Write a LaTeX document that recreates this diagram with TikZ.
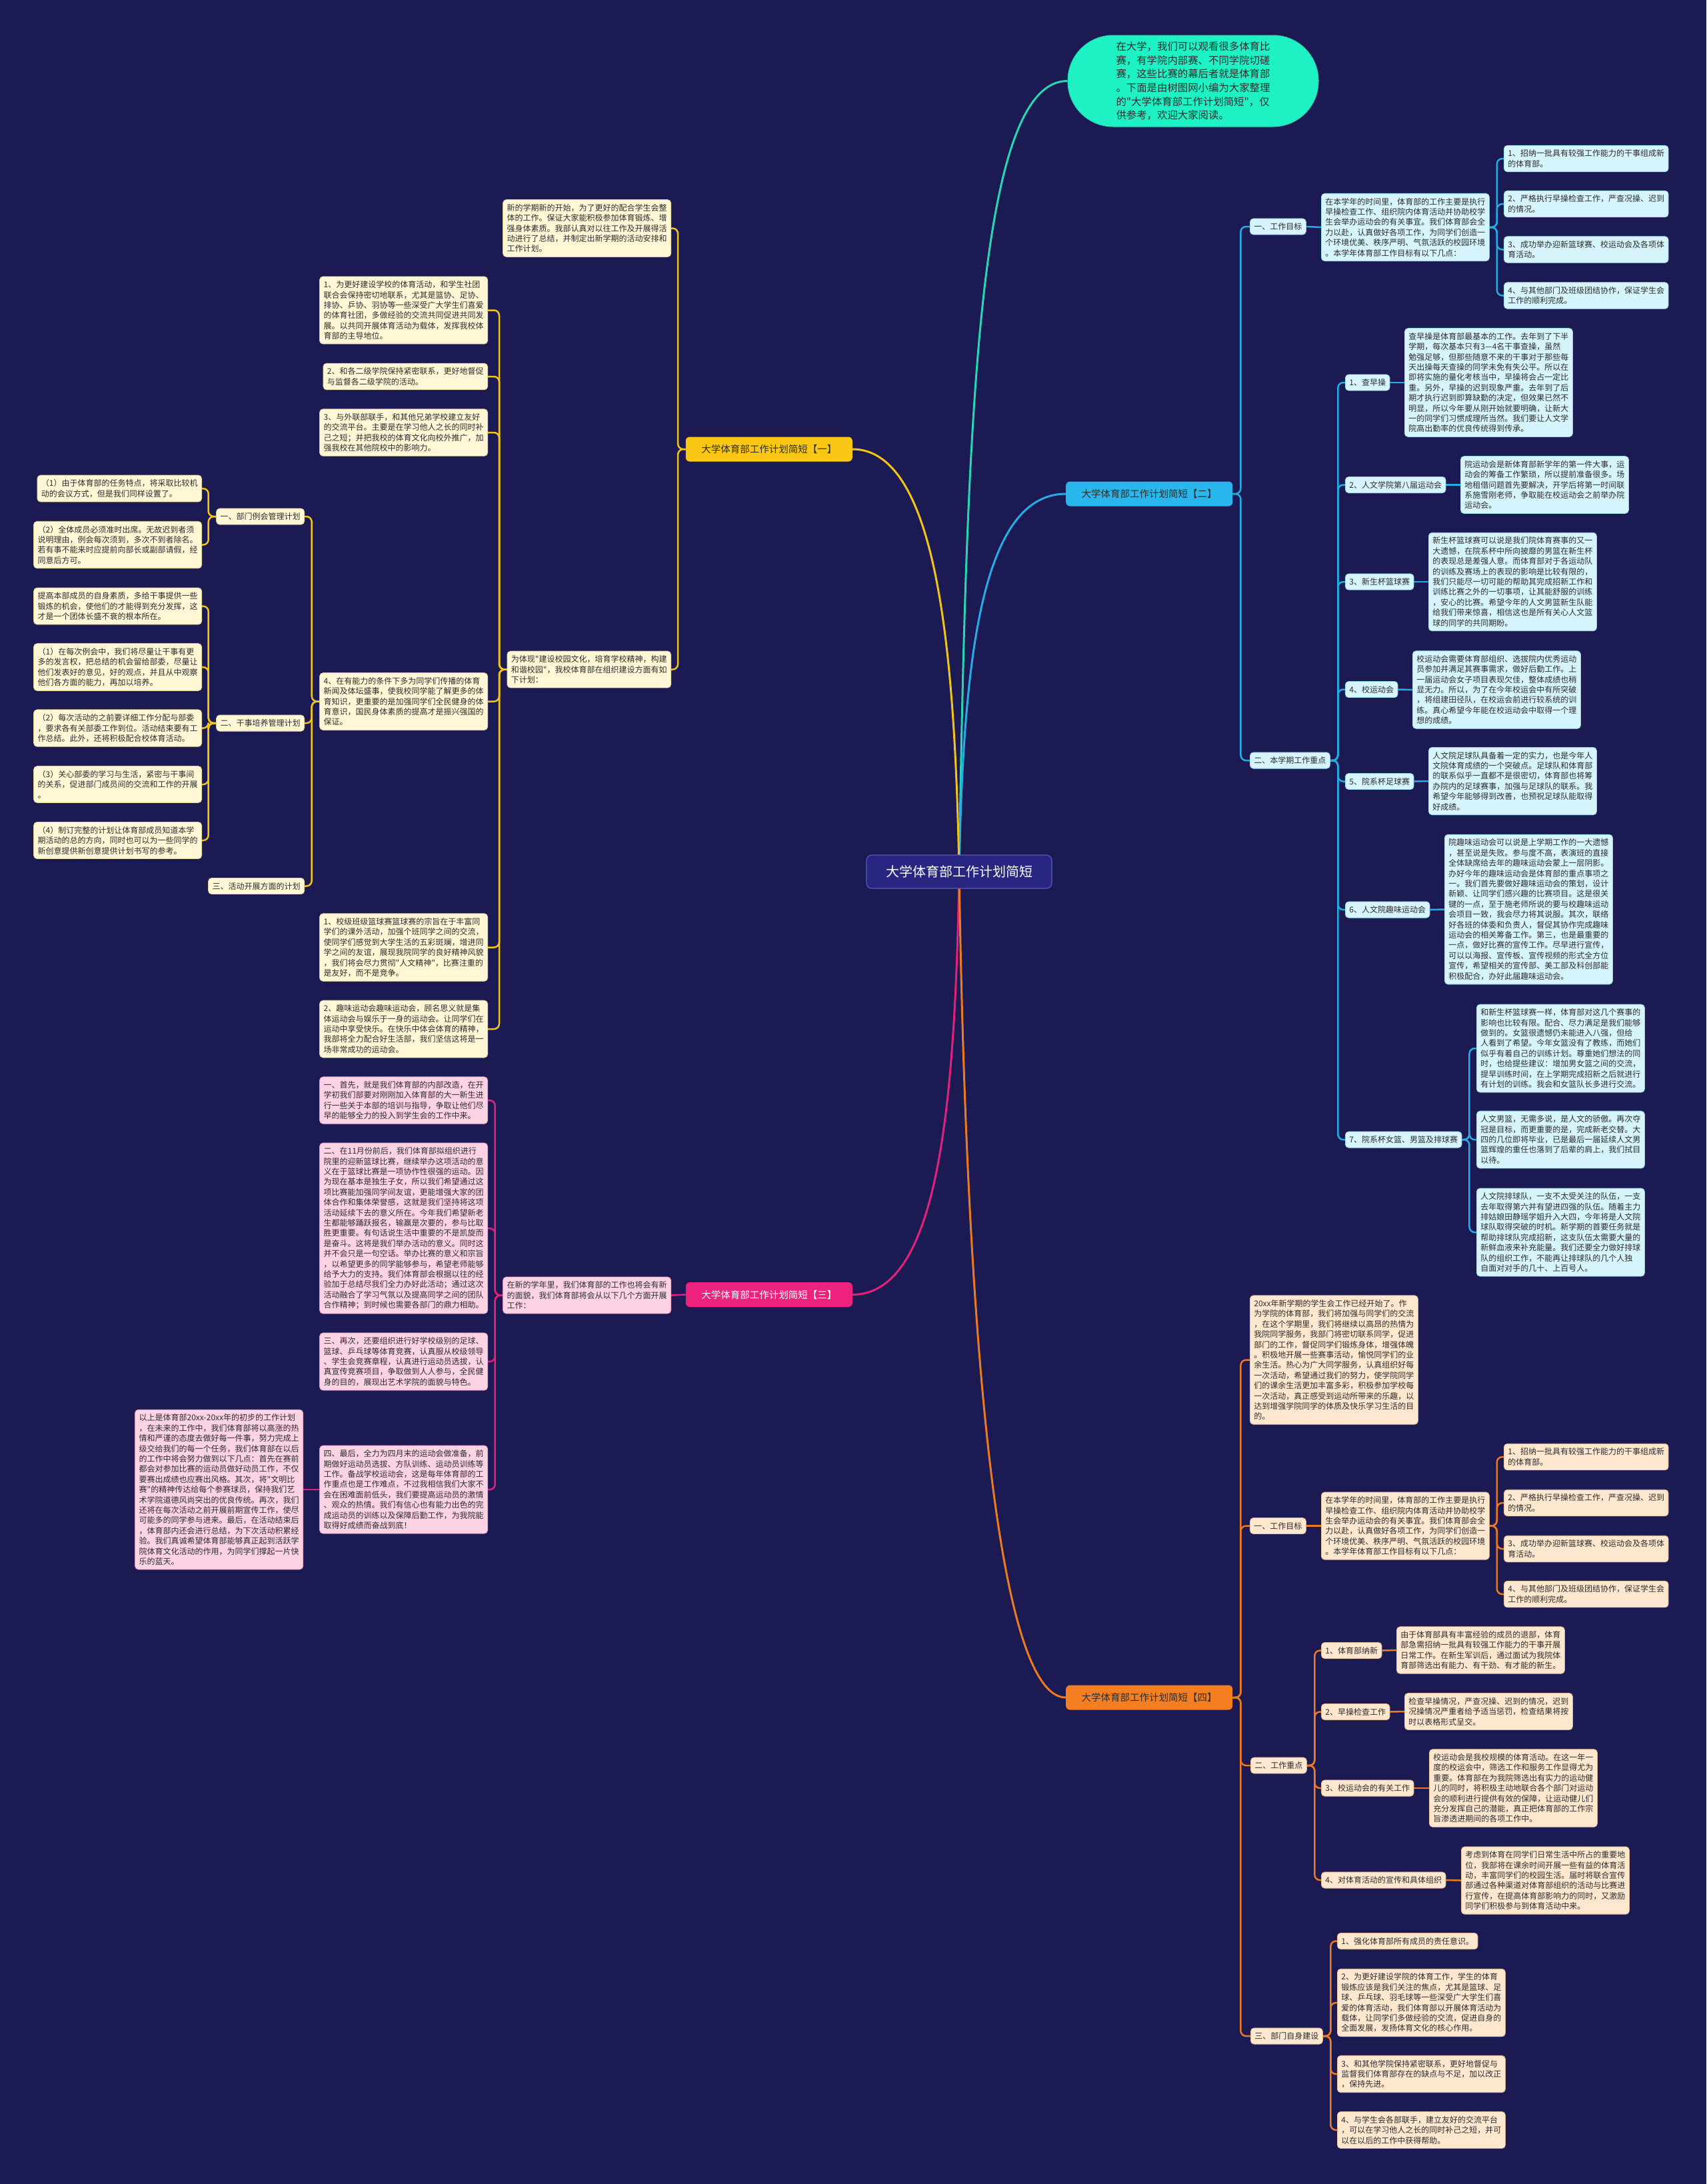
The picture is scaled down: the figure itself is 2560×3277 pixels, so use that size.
\documentclass[tikz,border=0pt]{standalone}
\usepackage{fontspec}
\setmainfont{Noto Sans CJK SC}
\newfontfamily\cjkf{Noto Sans CJK SC}
\usetikzlibrary{calc}
\definecolor{bgc}{RGB}{27,26,82}
\definecolor{txt}{RGB}{45,45,45}
\definecolor{rootfill}{RGB}{40,38,128}
\definecolor{rootedge}{RGB}{90,90,190}
\definecolor{tealfill}{RGB}{30,242,196}
\definecolor{tealline}{RGB}{40,214,180}
\definecolor{cline}{RGB}{38,172,228}
\definecolor{cfill}{RGB}{40,182,236}
\definecolor{cbox}{RGB}{214,244,252}
\definecolor{cedge}{RGB}{150,215,235}
\definecolor{yline}{RGB}{240,196,24}
\definecolor{yfill}{RGB}{250,200,20}
\definecolor{ybox}{RGB}{255,247,214}
\definecolor{yedge}{RGB}{225,210,150}
\definecolor{pline}{RGB}{226,34,122}
\definecolor{pfill}{RGB}{236,34,124}
\definecolor{pbox}{RGB}{252,210,229}
\definecolor{pedge}{RGB}{230,160,195}
\definecolor{oline}{RGB}{236,122,32}
\definecolor{ofill}{RGB}{244,126,34}
\definecolor{obox}{RGB}{253,231,207}
\definecolor{oedge}{RGB}{225,185,150}
\newcommand\fs{\cjkf\fontsize{12pt}{15.4pt}\selectfont}
\newcommand\fsec{\cjkf\fontsize{14.5pt}{17pt}\selectfont}
\newcommand\froot{\cjkf\fontsize{20pt}{24pt}\selectfont}
\newcommand\fintro{\cjkf\fontsize{15.4pt}{20.6pt}\selectfont}
\pgfdeclarelayer{bgl}
\pgfdeclarelayer{lines}
\pgfsetlayers{bgl,lines,main}
\tikzset{
  box/.style={font=\fs, text=txt, align=left, inner xsep=6pt, inner ysep=6.5pt, rounded corners=5pt, line width=0.8pt},
  cbx/.style={box, fill=cbox, draw=cedge},
  ybx/.style={box, fill=ybox, draw=yedge},
  pbx/.style={box, fill=pbox, draw=pedge},
  obx/.style={box, fill=obox, draw=oedge},
  sec/.style={font=\fsec, rounded corners=6pt, minimum width=250pt, minimum height=37pt, inner sep=0pt},
  cl/.style={draw=cline, line width=2.5pt, rounded corners=8pt},
  yl/.style={draw=yline, line width=2.5pt, rounded corners=8pt},
  pl/.style={draw=pline, line width=2.5pt, rounded corners=8pt},
  ol/.style={draw=oline, line width=2.5pt, rounded corners=8pt},
  tl/.style={draw=tealline, line width=2.5pt},
}
\begin{document}
\begin{tikzpicture}[x=1pt,y=-1pt]
\begin{pgfonlayer}{bgl}
\fill[bgc] (0,0) rectangle (2560,3277);
\end{pgfonlayer}
\useasboundingbox (0,0) rectangle (2560,3277);

% root
\node[fill=rootfill, draw=rootedge, line width=1.2pt, rounded corners=8pt, minimum width=278pt, minimum height=50pt, text=white, font=\froot] (root) at (1439,1308) {大学体育部工作计划简短};

% intro
\node[fill=tealfill, draw=tealline, line width=1pt, rounded corners=68pt, minimum width=376pt, minimum height=137pt, font=\fintro, text=txt, align=left] (intro) at (1790,121.5) {在大学，我们可以观看很多体育比\\赛，有学院内部赛、不同学院切磋\\赛，这些比赛的幕后者就是体育部\\。下面是由树图网小编为大家整理\\的"大学体育部工作计划简短"，仅\\供参考，欢迎大家阅读。};

% ===== branch 二 (blue) =====
\node[sec, fill=cfill, text=txt, anchor=west] (B2) at (1599,741) {大学体育部工作计划简短【二】};
\node[cbx, anchor=west] (G1) at (1875,340) {一、工作目标};
\node[cbx, anchor=west] (G1t) at (1982,341) {在本学年的时间里，体育部的工作主要是执行\\早操检查工作、组织院内体育活动并协助校学\\生会举办运动会的有关事宜。我们体育部会全\\力以赴，认真做好各项工作，为同学们创造一\\个环境优美、秩序严明、气氛活跃的校园环境\\。本学年体育部工作目标有以下几点：};
\node[cbx, anchor=west] (G1a) at (2256,238) {1、招纳一批具有较强工作能力的干事组成新\\的体育部。};
\node[cbx, anchor=west] (G1b) at (2256,306) {2、严格执行早操检查工作，严查况操、迟到\\的情况。};
\node[cbx, anchor=west] (G1c) at (2256,374.5) {3、成功举办迎新篮球赛、校运动会及各项体\\育活动。};
\node[cbx, anchor=west] (G1d) at (2256,443.5) {4、与其他部门及班级团结协作，保证学生会\\工作的顺利完成。};
\node[cbx, anchor=west] (G2) at (1875,1141) {二、本学期工作重点};
\node[cbx, anchor=west] (L1) at (2018,574) {1、查早操};
\node[cbx, anchor=west] (T1) at (2107,574) {查早操是体育部最基本的工作。去年到了下半\\学期，每次基本只有3—4名干事查操，虽然\\勉强足够，但那些随意不来的干事对于那些每\\天出操每天查操的同学未免有失公平。所以在\\即将实施的量化考核当中，早操将会占一定比\\重。另外，早操的迟到现象严重。去年到了后\\期才执行迟到即算缺勤的决定，但效果已然不\\明显，所以今年要从刚开始就要明确，让新大\\一的同学们习惯成理所当然。我们要让人文学\\院高出勤率的优良传统得到传承。};
\node[cbx, anchor=west] (L2) at (2018,727.5) {2、人文学院第八届运动会};
\node[cbx, anchor=west] (T2) at (2191,727.5) {院运动会是新体育部新学年的第一件大事，运\\动会的筹备工作繁琐，所以提前准备很多。场\\地租借问题首先要解决，开学后将第一时间联\\系施雪刚老师，争取能在校运动会之前举办院\\运动会。};
\node[cbx, anchor=west] (L3) at (2018,873) {3、新生杯篮球赛};
\node[cbx, anchor=west] (T3) at (2143,873) {新生杯篮球赛可以说是我们院体育赛事的又一\\大遗憾，在院系杯中所向披靡的男篮在新生杯\\的表现总是差强人意。而体育部对于各运动队\\的训练及赛场上的表现的影响是比较有限的，\\我们只能尽一切可能的帮助其完成招新工作和\\训练比赛之外的一切事项，让其能舒服的训练\\，安心的比赛。希望今年的人文男篮新生队能\\给我们带来惊喜，相信这也是所有关心人文篮\\球的同学的共同期盼。};
\node[cbx, anchor=west] (L4) at (2018,1034.5) {4、校运动会};
\node[cbx, anchor=west] (T4) at (2119,1035) {校运动会需要体育部组织、选拔院内优秀运动\\员参加并满足其赛事需求，做好后勤工作。上\\一届运动会女子项目表现欠佳，整体成绩也稍\\显无力。所以，为了在今年校运会中有所突破\\，将组建田径队，在校运会前进行较系统的训\\练。真心希望今年能在校运动会中取得一个理\\想的成绩。};
\node[cbx, anchor=west] (L5) at (2018,1172.5) {5、院系杯足球赛};
\node[cbx, anchor=west] (T5) at (2143,1172) {人文院足球队具备着一定的实力，也是今年人\\文院体育成绩的一个突破点。足球队和体育部\\的联系似乎一直都不是很密切，体育部也将筹\\办院内的足球赛事，加强与足球队的联系。我\\希望今年能够得到改善，也预祝足球队能取得\\好成绩。};
\node[cbx, anchor=west] (L6) at (2018,1365) {6、人文院趣味运动会};
\node[cbx, anchor=west] (T6) at (2167,1364.5) {院趣味运动会可以说是上学期工作的一大遗憾\\，甚至说是失败。参与度不高，表演班的直接\\全体缺席给去年的趣味运动会蒙上一层阴影。\\办好今年的趣味运动会是体育部的重点事项之\\一。我们首先要做好趣味运动会的策划，设计\\新颖、让同学们感兴趣的比赛项目。这是很关\\键的一点，至于施老师所说的要与校趣味运动\\会项目一致，我会尽力将其说服。其次，联络\\好各班的体委和负责人，督促其协作完成趣味\\运动会的相关筹备工作。第三，也是最重要的\\一点，做好比赛的宣传工作。尽早进行宣传，\\可以以海报、宣传板、宣传视频的形式全方位\\宣传，希望相关的宣传部、美工部及科创部能\\积极配合，办好此届趣味运动会。};
\node[cbx, anchor=west] (L7) at (2018,1710) {7、院系杯女篮、男篮及排球赛};
\node[cbx, anchor=west] (T7a) at (2215,1573) {和新生杯篮球赛一样，体育部对这几个赛事的\\影响也比较有限。配合、尽力满足是我们能够\\做到的。女篮很遗憾仍未能进入八强，但给\\人看到了希望。今年女篮没有了教练，而她们\\似乎有着自己的训练计划。尊重她们想法的同\\时，也给提些建议：增加男女篮之间的交流，\\提早训练时间，在上学期完成招新之后就进行\\有计划的训练。我会和女篮队长多进行交流。};
\node[cbx, anchor=west] (T7b) at (2215,1710) {人文男篮，无需多说，是人文的骄傲。再次夺\\冠是目标，而更重要的是，完成新老交替。大\\四的几位即将毕业，已是最后一届延续人文男\\篮辉煌的重任也落到了后辈的肩上，我们拭目\\以待。};
\node[cbx, anchor=west] (T7c) at (2215,1849) {人文院排球队，一支不太受关注的队伍，一支\\去年取得第六并有望进四强的队伍。随着主力\\排姑娘田静瑶学姐升入大四，今年将是人文院\\球队取得突破的时机。新学期的首要任务就是\\帮助排球队完成招新，这支队伍太需要大量的\\新鲜血液来补充能量。我们还要全力做好排球\\队的组织工作，不能再让排球队的几个人独\\自面对对手的几十、上百号人。};

% ===== branch 一 (yellow) =====
\node[sec, fill=yfill, text=txt, anchor=east] (B1) at (1279,674) {大学体育部工作计划简短【一】};
\node[ybx, anchor=east] (N1) at (1007,342.5) {新的学期新的开始，为了更好的配合学生会整\\体的工作。保证大家能积极参加体育锻炼、增\\强身体素质。我部认真对以往工作及开展得活\\动进行了总结，并制定出新学期的活动安排和\\工作计划。};
\node[ybx, anchor=east] (N2) at (1007,1004.5) {为体现"建设校园文化，培育学校精神，构建\\和谐校园"，我校体育部在组织建设方面有如\\下计划：};
\node[ybx, anchor=east] (I1) at (732,465.5) {1、为更好建设学校的体育活动，和学生社团\\联合会保持密切地联系，尤其是篮协、足协、\\排协、乒协、羽协等一些深受广大学生们喜爱\\的体育社团，多做经验的交流共同促进共同发\\展。以共同开展体育活动为载体，发挥我校体\\育部的主导地位。};
\node[ybx, anchor=east] (I2) at (732,565) {2、和各二级学院保持紧密联系，更好地督促\\与监督各二级学院的活动。};
\node[ybx, anchor=east] (I3) at (732,649) {3、与外联部联手，和其他兄弟学校建立友好\\的交流平台。主要是在学习他人之长的同时补\\己之短；并把我校的体育文化向校外推广，加\\强我校在其他院校中的影响力。};
\node[ybx, anchor=east] (I4) at (732,1052.5) {4、在有能力的条件下多为同学们传播的体育\\新闻及体坛盛事，使我校同学能了解更多的体\\育知识，更重要的是加强同学们全民健身的体\\育意识，国民身体素质的提高才是振兴强国的\\保证。};
\node[ybx, anchor=east] (I5) at (732,1421.5) {1、校级班级篮球赛篮球赛的宗旨在于丰富同\\学们的课外活动，加强个班同学之间的交流，\\使同学们感觉到大学生活的五彩斑斓，增进同\\学之间的友谊，展现我院同学的良好精神风貌\\，我们将会尽力贯彻"人文精神"，比赛注重的\\是友好，而不是竞争。};
\node[ybx, anchor=east] (I6) at (732,1544) {2、趣味运动会趣味运动会，顾名思义就是集\\体运动会与娱乐于一身的运动会。让同学们在\\运动中享受快乐。在快乐中体会体育的精神，\\我部将全力配合好生活部，我们坚信这将是一\\场非常成功的运动会。};
\node[ybx, anchor=east] (P1) at (457,775) {一、部门例会管理计划};
\node[ybx, anchor=east] (P2) at (457,1085) {二、干事培养管理计划};
\node[ybx, anchor=east] (P3) at (457,1329.5) {三、活动开展方面的计划};
\node[ybx, anchor=east] (Q1) at (303,733) {（1）由于体育部的任务特点，将采取比较机\\动的会议方式，但是我们同样设置了。};
\node[ybx, anchor=east] (Q2) at (303,817.5) {（2）全体成员必须准时出席。无故迟到者须\\说明理由，例会每次须到，多次不到者除名。\\若有事不能来时应提前向部长或副部请假，经\\同意后方可。};
\node[ybx, anchor=east] (Q3) at (303,909.5) {提高本部成员的自身素质，多给干事提供一些\\锻炼的机会，使他们的才能得到充分发挥，这\\才是一个团体长盛不衰的根本所在。};
\node[ybx, anchor=east] (Q4) at (303,1001) {（1）在每次例会中，我们将尽量让干事有更\\多的发言权，把总结的机会留给部委，尽量让\\他们发表好的意见，好的观点，并且从中观察\\他们各方面的能力，再加以培养。};
\node[ybx, anchor=east] (Q5) at (303,1092.5) {（2）每次活动的之前要详细工作分配与部委\\，要求各有关部委工作到位。活动结束要有工\\作总结。此外，还将积极配合校体育活动。};
\node[ybx, anchor=east] (Q6) at (303,1177) {（3）关心部委的学习与生活，紧密与干事间\\的关系，促进部门成员间的交流和工作的开展\\。};
\node[ybx, anchor=east] (Q7) at (303,1261) {（4）制订完整的计划让体育部成员知道本学\\期活动的总的方向，同时也可以为一些同学的\\新创意提供新创意提供计划书写的参考。};

% ===== branch 三 (pink) =====
\node[sec, fill=pfill, text=white, anchor=east] (B3) at (1279,1942.5) {大学体育部工作计划简短【三】};
\node[pbx, anchor=east] (M0) at (1007,1943.5) {在新的学年里，我们体育部的工作也将会有新\\的面貌，我们体育部将会从以下几个方面开展\\工作：};
\node[pbx, anchor=east] (M1) at (732,1651) {一、首先，就是我们体育部的内部改造，在开\\学初我们部要对刚刚加入体育部的大一新生进\\行一些关于本部的培训与指导，争取让他们尽\\早的能够全力的投入到学生会的工作中来。};
\node[pbx, anchor=east] (M2) at (732,1843) {二、在11月份前后，我们体育部拟组织进行\\院里的迎新篮球比赛，继续举办这项活动的意\\义在于篮球比赛是一项协作性很强的运动。因\\为现在基本是独生子女，所以我们希望通过这\\项比赛能加强同学间友谊，更能增强大家的团\\体合作和集体荣誉感，这就是我们坚持将这项\\活动延续下去的意义所在。今年我们希望新老\\生都能够踊跃报名，输赢是次要的，参与比取\\胜更重要。有句话说生活中重要的不是凯旋而\\是奋斗。这将是我们举办活动的意义。同时这\\并不会只是一句空话。举办比赛的意义和宗旨\\，以希望更多的同学能够参与，希望老师能够\\给予大力的支持。我们体育部会根据以往的经\\验加于总结尽我们全力办好此活动；通过这次\\活动融合了学习气氛以及提高同学之间的团队\\合作精神；到时候也需要各部门的鼎力相助。};
\node[pbx, anchor=east] (M3) at (732,2043) {三、再次，还要组织进行好学校级别的足球、\\篮球、乒乓球等体育竞赛，认真服从校级领导\\、学生会竞赛章程，认真进行运动员选拔，认\\真宣传竞赛项目，争取做到人人参与，全民健\\身的目的，展现出艺术学院的面貌与特色。};
\node[pbx, anchor=east] (M4) at (732,2235) {四、最后，全力为四月末的运动会做准备，前\\期做好运动员选拔、方队训练、运动员训练等\\工作。备战学校运动会，这是每年体育部的工\\作重点也是工作难点，不过我相信我们大家不\\会在困难面前低头，我们要提高运动员的激情\\、观众的热情。我们有信心也有能力出色的完\\成运动员的训练以及保障后勤工作，为我院能\\取得好成绩而奋战到底！};
\node[pbx, anchor=east] (M5) at (455,2235) {以上是体育部20xx-20xx年的初步的工作计划\\，在未来的工作中，我们体育部将以高涨的热\\情和严谨的态度去做好每一件事，努力完成上\\级交给我们的每一个任务，我们体育部在以后\\的工作中将会努力做到以下几点：首先在赛前\\都会对参加比赛的运动员做好动员工作，不仅\\要赛出成绩也应赛出风格。其次，将"文明比\\赛"的精神传达给每个参赛球员，保持我们艺\\术学院道德风尚突出的优良传统。再次，我们\\还将在每次活动之前开展前期宣传工作，使尽\\可能多的同学参与进来。最后，在活动结束后\\，体育部内还会进行总结，为下次活动积累经\\验。我们真诚希望体育部能够真正起到活跃学\\院体育文化活动的作用，为同学们撑起一片快\\乐的蓝天。};

% ===== branch 四 (orange) =====
\node[sec, fill=ofill, text=txt, anchor=west] (B4) at (1599,2547) {大学体育部工作计划简短【四】};
\node[obx, anchor=west] (O1) at (1875,2040.5) {20xx年新学期的学生会工作已经开始了。作\\为学院的体育部，我们将加强与同学们的交流\\，在这个学期里，我们将继续以高昂的热情为\\我院同学服务，我部门将密切联系同学，促进\\部门的工作，督促同学们锻炼身体，增强体魄\\。积极地开展一些赛事活动，愉悦同学们的业\\余生活。热心为广大同学服务，认真组织好每\\一次活动，希望通过我们的努力，使学院同学\\们的课余生活更加丰富多彩，积极参加学校每\\一次活动，真正感受到运动所带来的乐趣，以\\达到增强学院同学的体质及快乐学习生活的目\\的。};
\node[obx, anchor=west] (O2) at (1875,2289.5) {一、工作目标};
\node[obx, anchor=west] (O2t) at (1982,2289.5) {在本学年的时间里，体育部的工作主要是执行\\早操检查工作、组织院内体育活动并协助校学\\生会举办运动会的有关事宜。我们体育部会全\\力以赴，认真做好各项工作，为同学们创造一\\个环境优美、秩序严明、气氛活跃的校园环境\\。本学年体育部工作目标有以下几点：};
\node[obx, anchor=west] (O2a) at (2256,2186) {1、招纳一批具有较强工作能力的干事组成新\\的体育部。};
\node[obx, anchor=west] (O2b) at (2256,2255) {2、严格执行早操检查工作，严查况操、迟到\\的情况。};
\node[obx, anchor=west] (O2c) at (2256,2324) {3、成功举办迎新篮球赛、校运动会及各项体\\育活动。};
\node[obx, anchor=west] (O2d) at (2256,2392) {4、与其他部门及班级团结协作，保证学生会\\工作的顺利完成。};
\node[obx, anchor=west] (O3) at (1876,2649) {二、工作重点};
\node[obx, anchor=west] (R1) at (1982,2476.5) {1、体育部纳新};
\node[obx, anchor=west] (R1t) at (2095,2476) {由于体育部具有丰富经验的成员的退部，体育\\部急需招纳一批具有较强工作能力的干事开展\\日常工作。在新生军训后，通过面试为我院体\\育部筛选出有能力、有干劲、有才能的新生。};
\node[obx, anchor=west] (R2) at (1982,2568.5) {2、早操检查工作};
\node[obx, anchor=west] (R2t) at (2107,2568) {检查早操情况，严查况操、迟到的情况，迟到\\况操情况严重者给予适当惩罚，检查结果将按\\时以表格形式呈交。};
\node[obx, anchor=west] (R3) at (1982,2683) {3、校运动会的有关工作};
\node[obx, anchor=west] (R3t) at (2144,2683) {校运动会是我校规模的体育活动。在这一年一\\度的校运会中，筛选工作和服务工作显得尤为\\重要。体育部在为我院筛选出有实力的运动健\\儿的同时，将积极主动地联合各个部门对运动\\会的顺利进行提供有效的保障，让运动健儿们\\充分发挥自己的潜能，真正把体育部的工作宗\\旨渗透进期间的各项工作中。};
\node[obx, anchor=west] (R4) at (1982,2821) {4、对体育活动的宣传和具体组织};
\node[obx, anchor=west] (R4t) at (2192,2821.5) {考虑到体育在同学们日常生活中所占的重要地\\位，我部将在课余时间开展一些有益的体育活\\动，丰富同学们的校园生活。届时将联合宣传\\部通过各种渠道对体育部组织的活动与比赛进\\行宣传，在提高体育部影响力的同时，又激励\\同学们积极参与到体育活动中来。};
\node[obx, anchor=west] (O4) at (1876,3055) {三、部门自身建设};
\node[obx, anchor=west] (S1) at (2006,2912.5) {1、强化体育部所有成员的责任意识。};
\node[obx, anchor=west] (S2) at (2006,3005) {2、为更好建设学院的体育工作，学生的体育\\锻炼应该是我们关注的焦点，尤其是篮球、足\\球、乒乓球、羽毛球等一些深受广大学生们喜\\爱的体育活动，我们体育部以开展体育活动为\\载体，让同学们多做经验的交流，促进自身的\\全面发展，发扬体育文化的核心作用。};
\node[obx, anchor=west] (S3) at (2006,3112) {3、和其他学院保持紧密联系，更好地督促与\\监督我们体育部存在的缺点与不足，加以改正\\，保持先进。};
\node[obx, anchor=west] (S4) at (2006,3196) {4、与学生会各部联手，建立友好的交流平台\\，可以在学习他人之长的同时补己之短，并可\\以在以后的工作中获得帮助。};

% ===== connectors =====
\begin{pgfonlayer}{lines}
\draw[tl, line width=3pt] (root.center) .. controls (1450,600) and (1470,121.5) .. (intro.west);
\draw[cl, line width=3pt] (root.center) .. controls (1445,1000) and (1470,741) .. (B2.west);
\draw[yl, line width=3pt] (root.center) .. controls (1433,1000) and (1410,674) .. (B1.east);
\draw[pl, line width=3pt] (root.center) .. controls (1433,1650) and (1410,1942.5) .. (B3.east);
\draw[ol, line width=3pt] (root.center) .. controls (1445,1700) and (1470,2547) .. (B4.west);
% branch 二
\foreach \c in {G1,G2} \draw[cl] (B2.east) -- ++(12,0) |- (\c.west);
\draw[cl] (G1.east) -- (G1t.west);
\foreach \c in {G1a,G1b,G1c,G1d} \draw[cl] (G1t.east) -- ++(11,0) |- (\c.west);
\foreach \c in {L1,L2,L3,L4,L5,L6,L7} \draw[cl] (G2.east) -- ++(11.5,0) |- (\c.west);
\draw[cl] (L1.east) -- (T1.west);
\draw[cl] (L2.east) -- (T2.west);
\draw[cl] (L3.east) -- (T3.west);
\draw[cl] (L4.east) -- (T4.west);
\draw[cl] (L5.east) -- (T5.west);
\draw[cl] (L6.east) -- (T6.west);
\foreach \c in {T7a,T7b,T7c} \draw[cl] (L7.east) -- ++(11,0) |- (\c.west);
% branch 一
\foreach \c in {N1,N2} \draw[yl] (B1.west) -- ++(-11.5,0) |- (\c.east);
\foreach \c in {I1,I2,I3,I4,I5,I6} \draw[yl] (N2.west) -- ++(-11.5,0) |- (\c.east);
\foreach \c in {P1,P2,P3} \draw[yl] (I4.west) -- ++(-11.5,0) |- (\c.east);
\foreach \c in {Q1,Q2} \draw[yl] (P1.west) -- ++(-11.5,0) |- (\c.east);
\foreach \c in {Q3,Q4,Q5,Q6,Q7} \draw[yl] (P2.west) -- ++(-11.5,0) |- (\c.east);
% branch 三
\draw[pl] (B3.west) -- (M0.east);
\foreach \c in {M1,M2,M3,M4} \draw[pl] (M0.west) -- ++(-11.5,0) |- (\c.east);
\draw[pl] (M4.west) -- (M5.east);
% branch 四
\foreach \c in {O1,O2,O3,O4} \draw[ol] (B4.east) -- ++(12,0) |- (\c.west);
\draw[ol] (O2.east) -- (O2t.west);
\foreach \c in {O2a,O2b,O2c,O2d} \draw[ol] (O2t.east) -- ++(11,0) |- (\c.west);
\foreach \c in {R1,R2,R3,R4} \draw[ol] (O3.east) -- ++(11.5,0) |- (\c.west);
\draw[ol] (R1.east) -- (R1t.west);
\draw[ol] (R2.east) -- (R2t.west);
\draw[ol] (R3.east) -- (R3t.west);
\draw[ol] (R4.east) -- (R4t.west);
\foreach \c in {S1,S2,S3,S4} \draw[ol] (O4.east) -- ++(11.5,0) |- (\c.west);
\end{pgfonlayer}
\end{tikzpicture}
\end{document}
